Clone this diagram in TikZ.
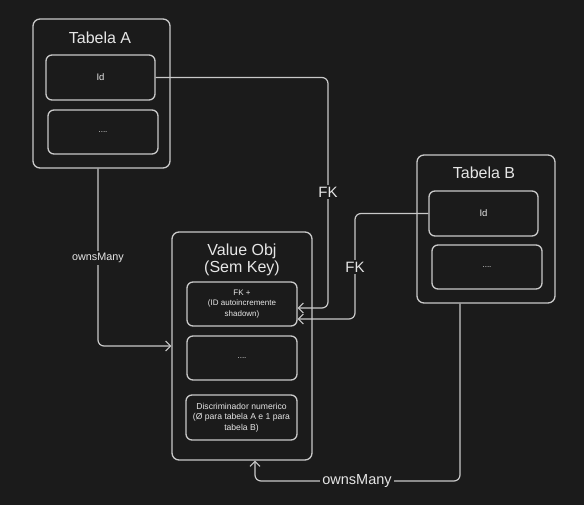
\documentclass[tikz,border=0pt]{standalone}
\usepackage{fontspec}
\setmainfont{Liberation Sans}
\usetikzlibrary{arrows.meta,calc}
\definecolor{bg}{HTML}{1B1B1B}
\definecolor{stroke}{HTML}{C9C9C9}
\definecolor{txt}{HTML}{E6E6E6}
\tikzset{
  box/.style={draw=stroke, line width=1.3pt, rounded corners=6pt, minimum width=#1, inner sep=0pt},
  outer/.style={draw=stroke, line width=1.3pt, rounded corners=7pt, inner sep=0pt},
  small/.style={text=txt, font=\fontsize{8}{10.5}\selectfont, align=center},
  title/.style={text=txt, font=\fontsize{16}{17}\selectfont, align=center},
  conn/.style={draw=stroke, line width=1.2pt, rounded corners=6pt},
  arr/.style={conn, -{Straight Barb[length=5pt,width=10pt,line width=1.1pt]}},
  lbl/.style={fill=bg, text=txt, inner sep=2pt},
}
\begin{document}
\begin{tikzpicture}[x=1pt,y=-1pt]
\useasboundingbox[fill=bg] (0,0) rectangle (584,505);
% Tabela A
\node[outer, minimum width=137pt, minimum height=149pt] (TabA) at (101.5,93.5) {};
\node[title] (tA) at (100,38) {Tabela A};
\node[box=109pt, minimum height=45pt, small, font=\fontsize{9.5}{11}\selectfont] (IdA) at (100.5,77.5) {Id};
\node[box=110pt, minimum height=44pt, small] (dA) at (103,132) {....};
% Tabela B
\node[outer, minimum width=138pt, minimum height=148pt] (TabB) at (486,229) {};
\node[title] (tB) at (484,173) {Tabela B};
\node[box=109pt, minimum height=45pt, small, font=\fontsize{9.5}{11}\selectfont] (IdB) at (483.5,213.5) {Id};
\node[box=110pt, minimum height=44pt, small] (dB) at (487,267) {....};
% Value Obj
\node[outer, minimum width=140pt, minimum height=228pt] (VO) at (242,346) {};
\node[title, font=\fontsize{16}{17.5}\selectfont] (tV) at (242,260) {Value Obj\\(Sem Key)};
\node[box=110pt, minimum height=44pt, small] (FKb) at (242,304) {FK +\\(ID autoincremente\\shadown)};
\node[box=110pt, minimum height=44pt, small] (dV) at (242,358) {....};
\node[box=111pt, minimum height=45pt, small, font=\fontsize{8.6}{10.5}\selectfont] (Disc) at (241.5,417.5) {Discriminador numerico\\(Ø para tabela A e 1 para\\tabela B)};
% waypoints
\coordinate (c1) at (328,308);
\coordinate (c2) at (355,319);
\coordinate (c3) at (98,346);
\coordinate (c4) at (460,481);
\coordinate (c5) at (255,481);
% connectors
\draw[arr] (IdA.east) -| (c1) -- (FKb.east |- c1);
\draw[arr] (IdB.west) -| (c2) -- (FKb.east |- c2);
\draw[arr] (TabA.south -| c3) -- (c3) -- (VO.west |- c3);
\draw[arr] (TabB.south -| c4) -- (c4) -- (c5) -- (VO.south -| c5);
% labels
\node[lbl, font=\fontsize{15}{15}\selectfont] (l1) at (328,192) {FK};
\node[lbl, font=\fontsize{15}{15}\selectfont] (l2) at (355,267) {FK};
\node[lbl, font=\fontsize{10.8}{11}\selectfont] (l3) at (98,258) {ownsMany};
\node[lbl, font=\fontsize{14.5}{15}\selectfont] (l4) at (357,481) {ownsMany};
\end{tikzpicture}
\end{document}
